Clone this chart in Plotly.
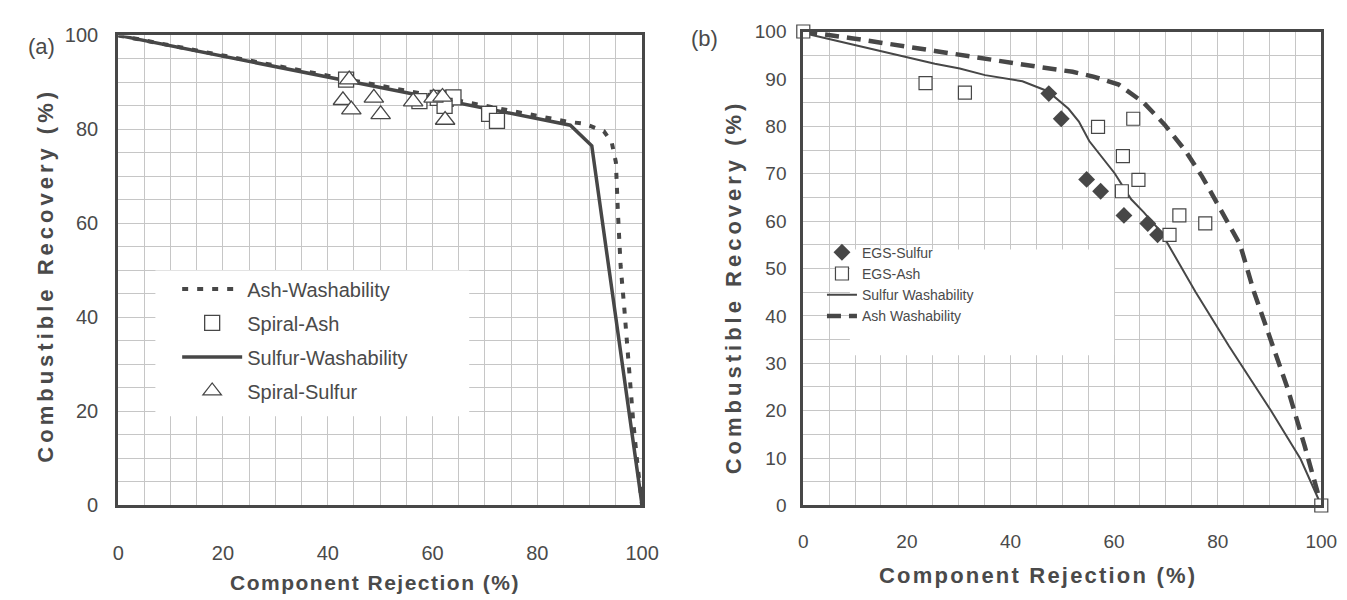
import plotly.graph_objects as go

W, H = 1347, 600

# ---------------- Panel (a) data ----------------
a_sulfur_wash_x = [0, 86.3, 90.4, 100]
a_sulfur_wash_y = [100, 80.9, 76.5, 0]
a_ash_wash_x = [0, 44, 86, 89, 92.7, 94.2, 95.0, 95.4, 95.9, 96.6, 97.4, 98.3, 99.0, 100]
a_ash_wash_y = [100, 90.6, 81.6, 81.2, 79.6, 77.3, 73.0, 62.0, 51.0, 42.0, 30.0, 18.0, 10.0, 0]
a_spiral_ash_x = [43.5, 57.5, 61.0, 62.5, 64.0, 62.3, 70.8, 72.3]
a_spiral_ash_y = [90.6, 86.0, 86.7, 86.5, 86.8, 85.0, 83.3, 81.8]
a_spiral_sulfur_x = [44.1, 42.9, 44.5, 48.8, 50.1, 56.3, 60.2, 61.9, 62.4]
a_spiral_sulfur_y = [90.6, 86.2, 84.2, 86.7, 83.2, 85.9, 86.7, 86.9, 82.0]

# ---------------- Panel (b) data ----------------
b_sulfur_wash_x = [0, 9.3, 17.3, 25.4, 30.2, 35.1, 42.3, 47.2, 51.2, 53.2, 55.2, 60.1, 63.3, 65.7, 69.0, 75.7, 82.2, 90.3, 96.0, 100]
b_sulfur_wash_y = [99.7, 97.3, 95.2, 93.2, 92.2, 90.8, 89.5, 87.4, 83.7, 81.0, 76.9, 70.1, 64.6, 61.9, 57.8, 45.1, 33.6, 20.0, 9.8, 0]
b_ash_wash_x = [0, 9.3, 25.4, 35.1, 45.6, 52.0, 56.0, 60.9, 65.7, 69.8, 73.8, 77.0, 80.2, 84.3, 87.0, 90.3, 93.5, 96.8, 100]
b_ash_wash_y = [100, 98.6, 95.9, 94.2, 92.5, 91.5, 90.5, 88.8, 85.0, 80.3, 74.8, 69.4, 63.3, 55.1, 45.1, 34.9, 24.7, 12.5, 0]
b_egs_sulfur_x = [47.4, 49.8, 54.7, 57.4, 61.9, 66.5, 68.4]
b_egs_sulfur_y = [86.9, 81.6, 68.8, 66.3, 61.2, 59.5, 57.1]
b_egs_ash_x = [0, 23.6, 31.2, 56.9, 63.7, 61.7, 64.7, 61.5, 72.6, 70.7, 77.6, 100]
b_egs_ash_y = [100, 89.1, 87.1, 79.9, 81.6, 73.7, 68.7, 66.3, 61.2, 57.1, 59.5, 0]

x_ticks_a = [0, 20, 40, 60, 80, 100]
y_ticks_a = [0, 20, 40, 60, 80, 100]
x_ticks_b = [0, 20, 40, 60, 80, 100]
y_ticks_b = [0, 10, 20, 30, 40, 50, 60, 70, 80, 90, 100]

INK = "#474747"
TXT = "#4a4a4a"
GRID = "#c6c6c6"
FONT = "Liberation Sans, Arial, sans-serif"

fig = go.Figure()

# Panel a traces
fig.add_trace(go.Scatter(x=a_ash_wash_x, y=a_ash_wash_y, mode="lines", name="Ash-Washability",
                         line=dict(color=INK, width=4, dash="6px,9px"),
                         xaxis="x", yaxis="y", legend="legend", legendgroup="a1", legendrank=1))
fig.add_trace(go.Scatter(x=a_sulfur_wash_x, y=a_sulfur_wash_y, mode="lines", name="Sulfur-Washability",
                         line=dict(color=INK, width=3.5),
                         xaxis="x", yaxis="y", legend="legend", legendgroup="a3", legendrank=3))
fig.add_trace(go.Scatter(x=a_spiral_ash_x, y=a_spiral_ash_y, mode="markers", name="Spiral-Ash",
                         marker=dict(symbol="square", size=15, color="white", line=dict(color=INK, width=1.3)),
                         xaxis="x", yaxis="y", legend="legend", legendgroup="a2", legendrank=2))
fig.add_trace(go.Scatter(x=a_spiral_sulfur_x, y=a_spiral_sulfur_y, mode="markers", name="Spiral-Sulfur",
                         marker=dict(symbol="triangle-up", size=17, color="white", line=dict(color=INK, width=1.3)),
                         xaxis="x", yaxis="y", legend="legend", legendgroup="a4", legendrank=4))

# Panel b traces
fig.add_trace(go.Scatter(x=b_sulfur_wash_x, y=b_sulfur_wash_y, mode="lines", name="Sulfur Washability",
                         line=dict(color=INK, width=2),
                         xaxis="x2", yaxis="y2", legend="legend2", legendrank=3))
fig.add_trace(go.Scatter(x=b_ash_wash_x, y=b_ash_wash_y, mode="lines", name="Ash Washability",
                         line=dict(color=INK, width=4.5, dash="14px,8px"),
                         xaxis="x2", yaxis="y2", legend="legend2", legendrank=4))
fig.add_trace(go.Scatter(x=b_egs_sulfur_x, y=b_egs_sulfur_y, mode="markers", name="EGS-Sulfur",
                         marker=dict(symbol="diamond", size=13, color=INK, line=dict(color=INK, width=0)),
                         xaxis="x2", yaxis="y2", legend="legend2", legendrank=1, cliponaxis=False))
fig.add_trace(go.Scatter(x=b_egs_ash_x, y=b_egs_ash_y, mode="markers", name="EGS-Ash",
                         marker=dict(symbol="square", size=13, color="white", line=dict(color=INK, width=1.2)),
                         xaxis="x2", yaxis="y2", legend="legend2", legendrank=2, cliponaxis=False))


def px_x(p):
    return p / W


def px_y(p):
    return 1 - p / H


def axis_common(size):
    return dict(
        showline=True, mirror=True, linecolor=INK, linewidth=3,
        showgrid=True, gridcolor=GRID, gridwidth=1, zeroline=False,
        ticks="outside", tickcolor="rgba(0,0,0,0)",
        tickfont=dict(family=FONT, size=size, color=TXT),
        minor=dict(dtick=5, showgrid=True, gridcolor=GRID, gridwidth=1, ticks=""),
        range=[0, 100], fixedrange=True,
    )


def ann(text, x, y, size, angle=0, spacing=0):
    if spacing:
        text = '<span style="letter-spacing:%spx">%s</span>' % (spacing, text)
    return dict(text=text, x=px_x(x), y=px_y(y), xref="paper", yref="paper",
                xanchor="center", yanchor="middle", showarrow=False, textangle=angle,
                font=dict(family=FONT, size=size, color=TXT))


fig.update_layout(
    width=W, height=H,
    margin=dict(l=0, r=0, t=0, b=0),
    paper_bgcolor="white", plot_bgcolor="white",
    font=dict(family=FONT, color=TXT),
    xaxis=dict(axis_common(20), domain=[px_x(106), px_x(639)], anchor="y",
               tickvals=x_ticks_a, ticklen=28),
    yaxis=dict(axis_common(20), domain=[px_y(505), px_y(17)], anchor="x",
               tickvals=y_ticks_a, ticklen=13),
    xaxis2=dict(axis_common(19), domain=[px_x(803), px_x(1330)], anchor="y2",
                tickvals=x_ticks_b, ticklen=17),
    yaxis2=dict(axis_common(19), domain=[px_y(505), px_y(13)], anchor="x2",
                tickvals=y_ticks_b, ticklen=10),
    legend=dict(x=px_x(166), y=px_y(260), xanchor="left", yanchor="top",
                bgcolor="rgba(0,0,0,0)", borderwidth=0,
                font=dict(family=FONT, size=20, color=TXT),
                traceorder="grouped", tracegroupgap=5, itemwidth=60),
    legend2=dict(x=px_x(822), y=px_y(226), xanchor="left", yanchor="top",
                 bgcolor="rgba(0,0,0,0)", borderwidth=0,
                 font=dict(family=FONT, size=14, color=TXT),
                 traceorder="normal", tracegroupgap=0, itemwidth=30),
    shapes=[
        dict(type="rect", xref="x", yref="y", x0=7.1, x1=67, y0=19, y1=50,
             fillcolor="white", line=dict(width=0), layer="between"),
        dict(type="rect", xref="x2", yref="y2", x0=9, x1=60, y0=31.7, y1=54,
             fillcolor="white", line=dict(width=0), layer="between"),
    ],
    annotations=[
        ann("(a)", 28, 29, 22),
        ann("(b)", 702, 20, 22),
        ann("<b>Combustible Recovery (%)</b>", 32, 266, 22, -90, 4),
        ann("<b>Combustible Recovery (%)</b>", 732, 278, 22, -90, 4),
        ann("<b>Component Rejection (%)</b>", 367, 585, 21, 0, 1.5),
        ann("<b>Component Rejection (%)</b>", 1042, 578, 22, 0, 2.2),
    ],
)

fig.write_html("out.html")
